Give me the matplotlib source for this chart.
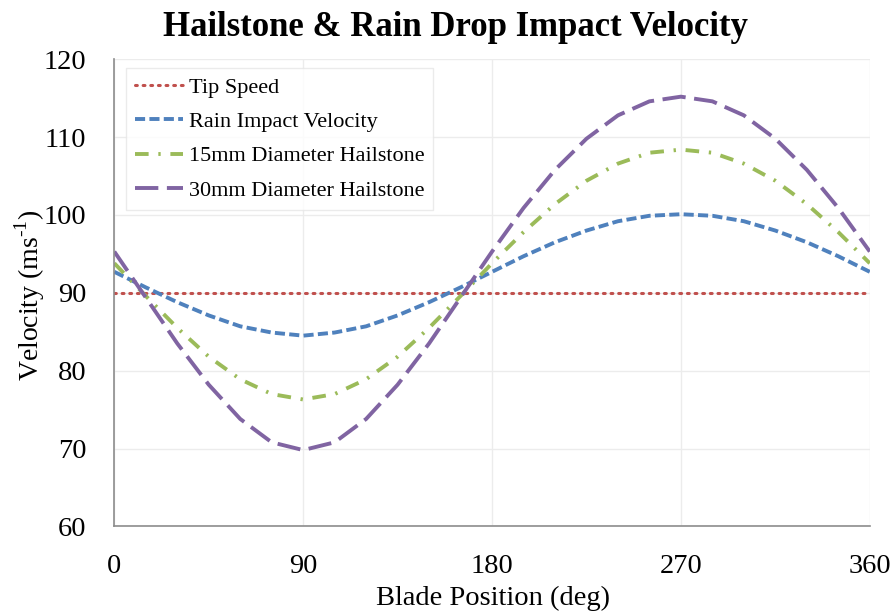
import matplotlib
matplotlib.use("Agg")
import matplotlib.pyplot as plt

# blade azimuth (deg) and impact velocities (m/s)
blade_position = [0, 15, 30, 45, 60, 75, 90, 105, 120, 135, 150, 165, 180,
                  195, 210, 225, 240, 255, 270, 285, 300, 315, 330, 345, 360]
tip_speed = [90.0] * len(blade_position)
rain_velocity = [92.7, 90.7, 88.8, 87.1, 85.7, 84.9, 84.5, 84.9, 85.7, 87.1, 88.8, 90.7, 92.7,
                 94.7, 96.5, 98.0, 99.2, 99.9, 100.1, 99.9, 99.2, 98.0, 96.5, 94.7, 92.7]
hail_15mm = [93.8, 89.6, 85.5, 81.8, 78.9, 77.0, 76.3, 77.0, 78.9, 81.8, 85.5, 89.6, 93.8,
             97.8, 101.4, 104.4, 106.6, 108.0, 108.4, 108.0, 106.6, 104.4, 101.4, 97.8, 93.8]
hail_30mm = [95.3, 89.4, 83.5, 78.2, 73.8, 70.8, 69.8, 70.8, 73.8, 78.2, 83.5, 89.4, 95.3,
             100.9, 105.8, 109.8, 112.8, 114.6, 115.2, 114.6, 112.8, 109.8, 105.8, 100.9, 95.3]

x_ticks = [0, 90, 180, 270, 360]
y_ticks = [60, 70, 80, 90, 100, 110, 120]

plt.rcParams["font.family"] = ["Liberation Serif", "DejaVu Serif"]
plt.rcParams["mathtext.fontset"] = "custom"
plt.rcParams["mathtext.rm"] = "Liberation Serif"

fig = plt.figure(figsize=(8.93, 6.12), dpi=100)
ax = fig.add_axes([0.128, 0.1399, 0.846, 0.7632])

lw = 2.8
ax.plot(blade_position, tip_speed, color="#C0504D", lw=2.2, dashes=(0.6, 1.9),
        dash_capstyle="round", label="Tip Speed")
ax.plot(blade_position, rain_velocity, color="#4F81BD", lw=lw, dashes=(2.6, 1.1),
        dash_capstyle="butt", label="Rain Impact Velocity")
ax.plot(blade_position, hail_15mm, color="#9BBB59", lw=lw, dashes=(3.5, 2.5, 0.6, 2.5),
        dash_capstyle="butt", label="15mm Diameter Hailstone")
ax.plot(blade_position, hail_30mm, color="#8064A2", lw=lw, dashes=(6, 2.2),
        dash_capstyle="butt", label="30mm Diameter Hailstone")

ax.set_xlim(0, 360)
ax.set_ylim(60, 120)
ax.set_xticks(x_ticks)
ax.set_yticks(y_ticks)
ax.tick_params(axis="both", length=0, labelsize=20.5)
ax.tick_params(axis="y", pad=20)
ax.tick_params(axis="x", pad=20)

ax.grid(True, color="#ECECEC", lw=1.0)
ax.set_axisbelow(True)
for side in ["top", "right"]:
    ax.spines[side].set_visible(False)
for side in ["left", "bottom"]:
    ax.spines[side].set_color("#8C8C8C")
    ax.spines[side].set_linewidth(1.2)

leg = ax.legend(loc="upper left", bbox_to_anchor=(0.015, 0.981), borderaxespad=0,
                fontsize=16, handlelength=2.2, handletextpad=0.25, labelspacing=0.62,
                borderpad=0.4, fancybox=False, frameon=True)
leg.get_frame().set_edgecolor("#E6E6E6")
leg.get_frame().set_linewidth(1.0)

fig.text(0.51, 1 - 28 / 612, "Hailstone & Rain Drop Impact Velocity", ha="center",
         va="center", fontsize=25, fontweight="bold")
fig.text(0.552, 1 - 598 / 612, "Blade Position (deg)", ha="center", va="center",
         fontsize=20.5)
fig.text(30 / 893, 1 - 295 / 612, "Velocity (ms$^{\\text{-1}}$)",
         ha="center", va="center", rotation=90, fontsize=20)

fig.savefig("out.png", dpi=100)
